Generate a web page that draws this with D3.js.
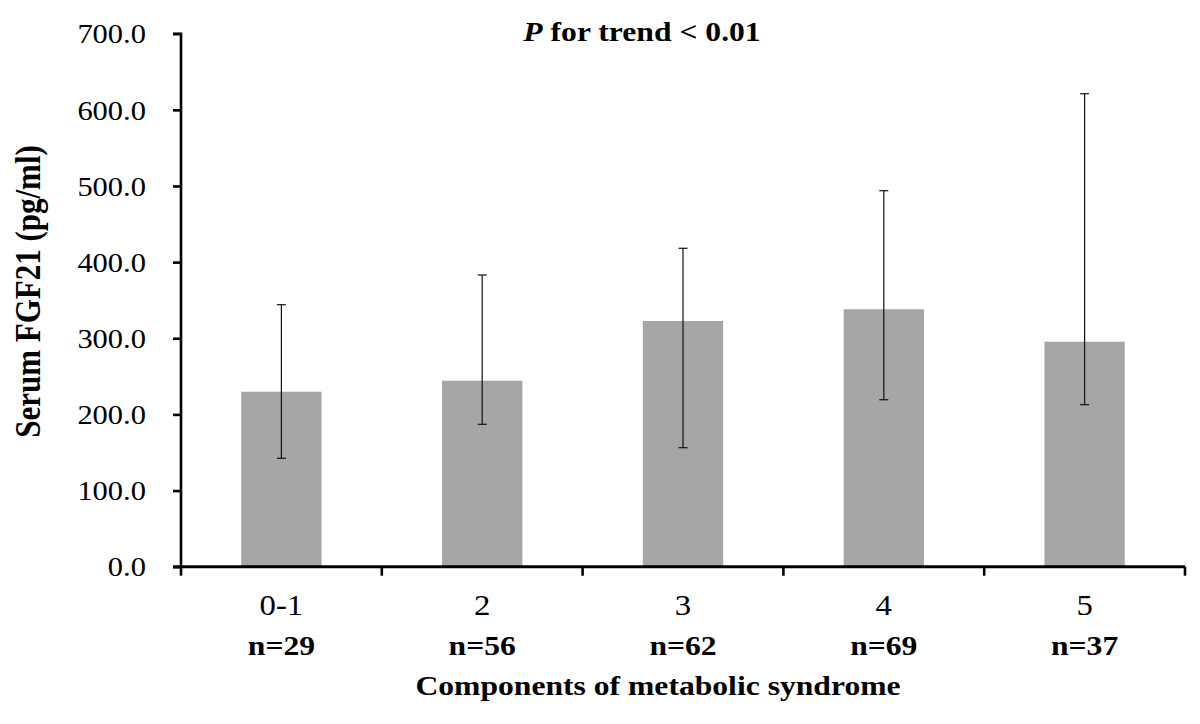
<!DOCTYPE html>
<html>
<head>
<meta charset="utf-8">
<script src="https://cdn.jsdelivr.net/npm/d3@7"></script>
<style>
  html, body { margin: 0; padding: 0; background: #fff; }
  svg { display: block; }
  text { font-family: "Liberation Serif", "Times New Roman", serif; fill: #000; }
</style>
</head>
<body>
<svg id="chart" width="1200" height="724"></svg>
<script>
const categories = ["0-1", "2", "3", "4", "5"];
const sampleSizes = ["n=29", "n=56", "n=62", "n=69", "n=37"];
const means = [229.8, 244.3, 322.7, 338.1, 295.5];
const errLow = [142.4, 187.0, 156.3, 219.3, 212.8];
const errHigh = [344.1, 383.1, 418.2, 493.8, 621.2];
const yTicks = [0, 100, 200, 300, 400, 500, 600, 700];
const yTitle = "Serum FGF21 (pg/ml)";
const xTitle = "Components of metabolic syndrome";

(function () {
const SX = 1.13; // horizontal stretch of the reference text
const svg = d3.select("#chart");

const pLeft = 181, pRight = 1185, pTop = 33.7, pBottom = 566.7;

const x = d3.scaleBand().domain(categories).range([pLeft, pRight])
  .paddingInner(0.6).paddingOuter(0.3);
const step = x.step();
const y = d3.scaleLinear().domain([0, 700]).range([pBottom, pTop]);

// bars
svg.append("g").selectAll("rect").data(categories).join("rect")
  .attr("x", d => x(d))
  .attr("width", x.bandwidth())
  .attr("y", (d, i) => y(means[i]))
  .attr("height", (d, i) => y(0) - y(means[i]))
  .attr("fill", "#a6a6a6");

// error bars
const eg = svg.append("g").attr("stroke", "#111").attr("stroke-width", 1.2);
categories.forEach((c, i) => {
  const cx = x(c) + x.bandwidth() / 2;
  eg.append("line").attr("x1", cx).attr("x2", cx).attr("y1", y(errLow[i])).attr("y2", y(errHigh[i]));
  [errLow[i], errHigh[i]].forEach(v => {
    eg.append("line").attr("x1", cx - 4.5).attr("x2", cx + 4.5).attr("y1", y(v)).attr("y2", y(v));
  });
});

// y axis
const yAxis = d3.axisLeft(y).tickValues(yTicks).tickSize(8).tickPadding(0)
  .tickFormat(d3.format(".1f"));
const ya = svg.append("g").attr("transform", `translate(${pLeft},0)`).call(yAxis);
ya.select(".domain").attr("stroke", "#000").attr("stroke-width", 2.6)
  .attr("d", `M-8,${pTop}H0V${pBottom}`);
ya.selectAll(".tick line").attr("stroke", "#000").attr("stroke-width", 2.6);
ya.selectAll(".tick text").remove();
ya.selectAll(".tick").append("text")
  .attr("transform", `translate(-35,0) scale(${SX},1)`)
  .attr("dy", "0.34em")
  .attr("text-anchor", "end")
  .attr("font-size", 27)
  .text(d => d3.format(".1f")(d));

// x axis line and boundary ticks
const xa = svg.append("g");
xa.append("line").attr("x1", pLeft - 8).attr("x2", pRight).attr("y1", pBottom).attr("y2", pBottom)
  .attr("stroke", "#000").attr("stroke-width", 3);
const boundaries = categories.map(c => x(c) + x.bandwidth() / 2 - step / 2)
  .concat([x(categories[categories.length - 1]) + x.bandwidth() / 2 + step / 2]);
xa.selectAll("line.bt").data(boundaries).join("line").attr("class", "bt")
  .attr("x1", d => d).attr("x2", d => d).attr("y1", pBottom).attr("y2", pBottom + 9)
  .attr("stroke", "#000").attr("stroke-width", 2.6);

// category labels
categories.forEach((c, i) => {
  const cx = x(c) + x.bandwidth() / 2;
  svg.append("text")
    .attr("transform", `translate(${cx},615) scale(${SX},1)`)
    .attr("text-anchor", "middle").attr("font-size", 29)
    .text(c);
  svg.append("text")
    .attr("transform", `translate(${cx},655) scale(${SX},1)`)
    .attr("text-anchor", "middle").attr("font-size", 28).attr("font-weight", "bold")
    .text(sampleSizes[i]);
});

// x title
svg.append("text")
  .attr("transform", `translate(658,695) scale(${SX},1)`)
  .attr("text-anchor", "middle").attr("font-size", 28).attr("font-weight", "bold")
  .text(xTitle);

// y title
svg.append("text")
  .attr("transform", `translate(40,291.5) scale(${SX},1) rotate(-90)`)
  .attr("text-anchor", "middle").attr("font-size", 31).attr("font-weight", "bold")
  .text(yTitle);

// trend annotation
const t = svg.append("text")
  .attr("transform", `translate(642,41) scale(${SX},1)`)
  .attr("text-anchor", "middle").attr("font-size", 28).attr("font-weight", "bold");
t.append("tspan").attr("font-style", "italic").text("P");
t.append("tspan").text(" for trend < 0.01");
})();
</script>
</body>
</html>
